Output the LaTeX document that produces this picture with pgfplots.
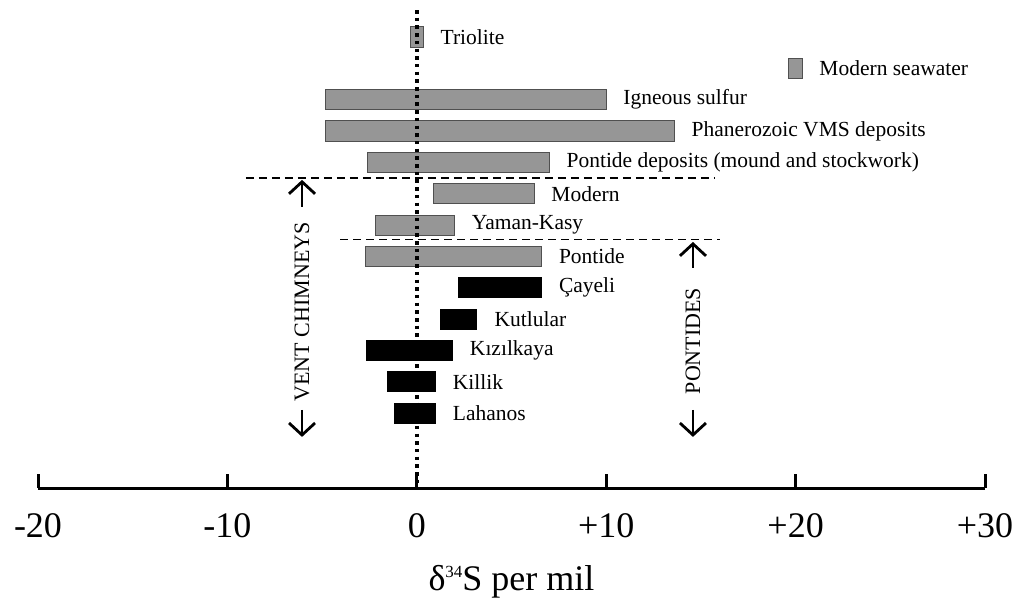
\documentclass[border=0pt]{standalone}
\usepackage{fontspec}
\setmainfont{Liberation Serif}
\usepackage{pgfplots}
\pgfplotsset{compat=1.18}
\usepackage{pgfplotstable}
\usetikzlibrary{arrows.meta}

\definecolor{barfill}{RGB}{150,150,150}
\definecolor{baredge}{RGB}{80,80,80}

% delta-34S ranges (per mil); pos = row from the top
\pgfplotstableread[col sep=comma]{
pos,start,end,label
0,-0.35,0.35,Triolite
1,19.65,20.35,Modern seawater
2,-4.8,10.0,Igneous sulfur
3,-4.8,13.6,Phanerozoic VMS deposits
4,-2.6,7.0,Pontide deposits (mound and stockwork)
5,0.9,6.2,Modern
6,-2.2,2.0,Yaman-Kasy
7,-2.7,6.6,Pontide
}\grayd

\pgfplotstableread[col sep=comma]{
pos,start,end,label
8,2.2,6.6,Çayeli
9,1.2,3.2,Kutlular
10,-2.7,1.9,Kızılkaya
11,-1.6,1.0,Killik
12,-1.2,1.0,Lahanos
}\blackd

\newcommand\barlabelfont{\fontsize{21.5}{24}\selectfont}
\newcommand\rangebar[4]{% table, row, half height, style
  \pgfplotstablegetelem{#2}{pos}\of{#1}\let\bp\pgfplotsretval
  \pgfplotstablegetelem{#2}{start}\of{#1}\let\bs\pgfplotsretval
  \pgfplotstablegetelem{#2}{end}\of{#1}\let\be\pgfplotsretval
  \pgfplotstablegetelem{#2}{label}\of{#1}\let\bl\pgfplotsretval
  \pgfmathsetmacro\blo{\bp-#3}%
  \pgfmathsetmacro\bhi{\bp+#3}%
  \edef\doplot{\noexpand\addplot[#4] coordinates {(\bs,\blo) (\be,\blo) (\be,\bhi) (\bs,\bhi)} -- cycle;}%
  \doplot
  \edef\donode{\noexpand\node[anchor=west, inner sep=0pt, xshift=17pt, font=\noexpand\barlabelfont] at (axis cs:\be,\bp) {\bl};}%
  \donode
}

\begin{document}
\begin{tikzpicture}
\useasboundingbox (0,0) rectangle (1014pt,602pt);
\begin{axis}[
  at={(38pt,114pt)}, anchor=south west,
  scale only axis, width=947pt, height=488pt,
  xmin=-20, xmax=30, ymin=-1.18, ymax=14.39, y dir=reverse,
  enlargelimits=false, clip=false,
  axis x line*=bottom, axis y line=none,
  axis line style={-, line width=3pt, black},
  xtick={-20,-10,0,10,20,30},
  xticklabels={-20,-10,0,+10,+20,+30},
  ytick=\empty,
  tick align=inside, major tick length=14pt,
  every tick/.style={black, line width=3pt},
  xticklabel style={font=\fontsize{36}{40}\selectfont, inner sep=0pt, anchor=north, yshift=-25pt},
  xlabel={δ{\fontsize{17}{18}\selectfont\raisebox{12.3pt}{34}}S per mil},
  xlabel style={at={(axis description cs:0.5,0)}, anchor=base, yshift=-102pt, inner sep=0pt,
    font=\fontsize{36}{40}\selectfont},
]
\pgfplotsinvokeforeach{0,...,7}{\rangebar{\grayd}{#1}{0.32}{fill=barfill, draw=baredge, line width=1pt}}
\pgfplotsinvokeforeach{0,...,4}{\rangebar{\blackd}{#1}{0.335}{fill=black, draw=none}}

% zero reference line
\draw[line width=3.5pt, dash pattern=on 3.5pt off 4.2pt] (axis cs:0,-0.86) -- (axis cs:0,14.39);
% group separators
\draw[line width=1.3pt, dash pattern=on 8pt off 5pt] (axis cs:-9.02,4.5) -- (axis cs:15.75,4.5);
\draw[line width=1.3pt, dash pattern=on 8pt off 5pt] (axis cs:-4.05,6.47) -- (axis cs:16.0,6.47);
% vent chimneys
\draw[line width=2.8pt, -{Straight Barb[length=12pt, width=26pt]}] (axis cs:-6.06,5.42) -- (axis cs:-6.06,4.56);
\draw[line width=2.8pt, -{Straight Barb[length=12pt, width=26pt]}] (axis cs:-6.06,11.90) -- (axis cs:-6.06,12.76);
\node[rotate=90, font=\fontsize{22}{24}\selectfont] at (axis cs:-6.06,8.77) {VENT CHIMNEYS};
% pontides
\draw[line width=2.8pt, -{Straight Barb[length=12pt, width=26pt]}] (axis cs:14.58,7.37) -- (axis cs:14.58,6.54);
\draw[line width=2.8pt, -{Straight Barb[length=12pt, width=26pt]}] (axis cs:14.58,11.90) -- (axis cs:14.58,12.76);
\node[rotate=90, font=\fontsize{22}{24}\selectfont] at (axis cs:14.58,9.70) {PONTIDES};
\end{axis}
\end{tikzpicture}
\end{document}
